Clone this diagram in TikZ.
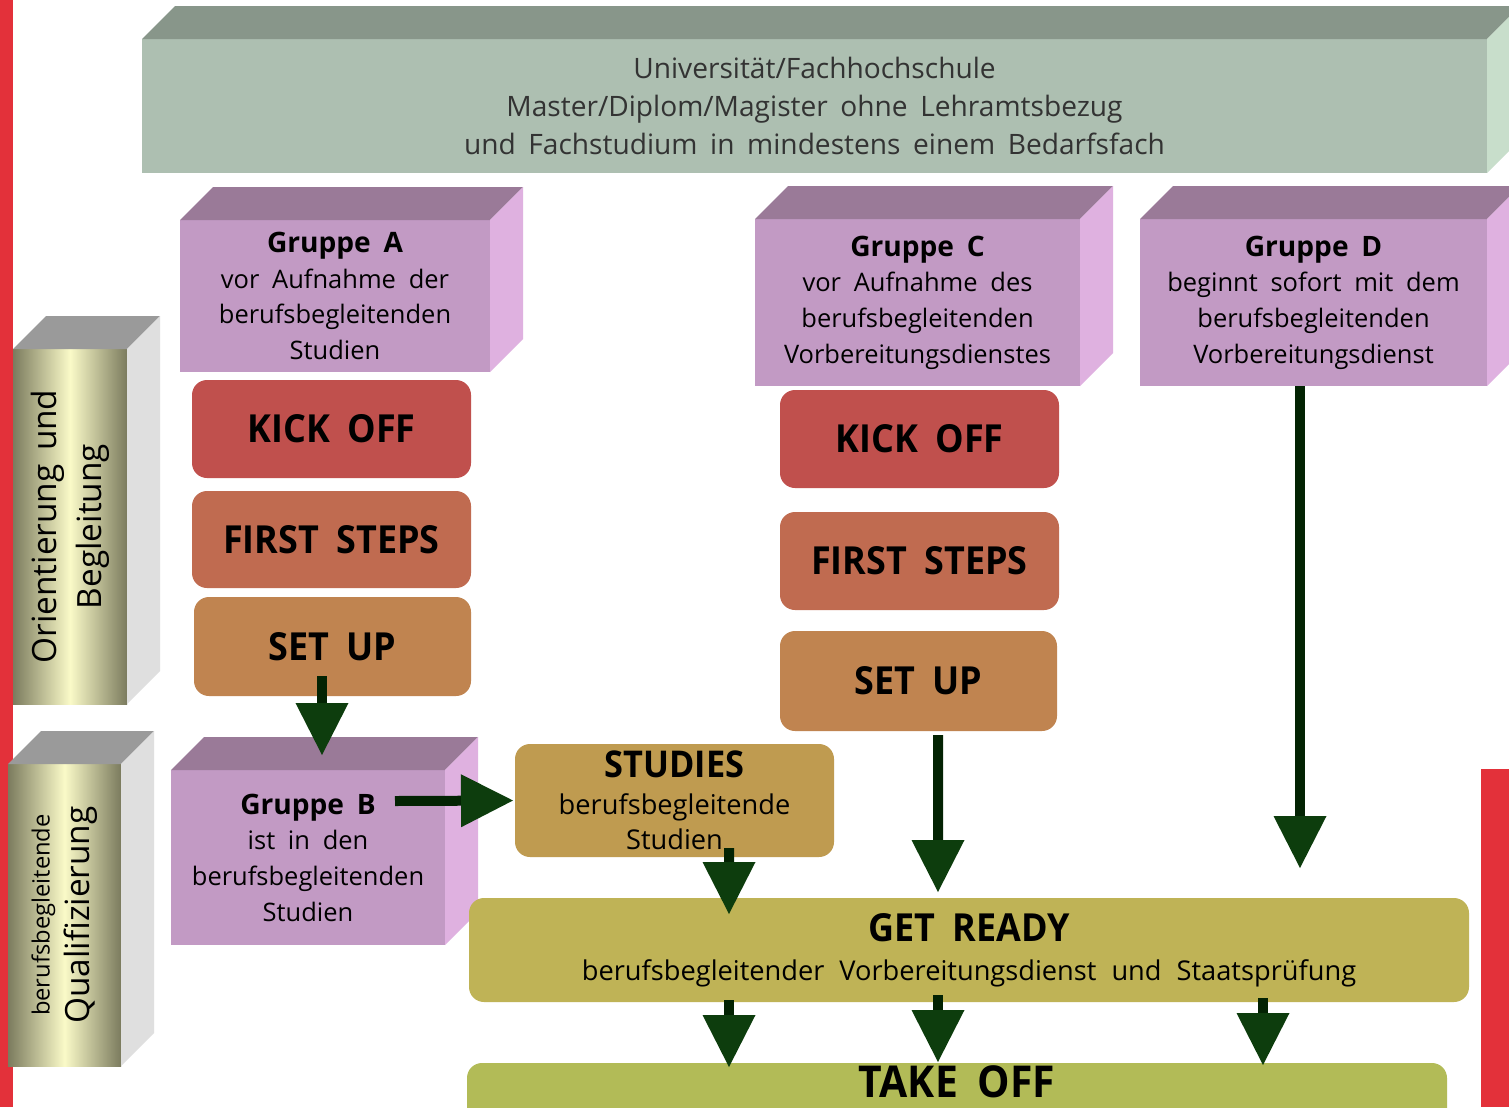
\documentclass[tikz,border=0pt]{standalone}
\usepackage{fontspec}
\setmainfont{Open Sans}
\newfontfamily\titlefam{Open Sans}[FakeStretch=0.93]
\usetikzlibrary{arrows.meta,calc}
\definecolor{redbar}{HTML}{E3313A}
\definecolor{grnT}{HTML}{88968A}
\definecolor{grnF}{HTML}{ADBFB1}
\definecolor{grnS}{HTML}{C8DECB}
\definecolor{purT}{HTML}{9A7A98}
\definecolor{purF}{HTML}{C29AC4}
\definecolor{purS}{HTML}{DFB1E0}
\definecolor{gryT}{HTML}{9A9A9A}
\definecolor{gryS}{HTML}{DFDFDF}
\definecolor{olv}{HTML}{7B7B5E}
\definecolor{crm}{HTML}{FAFAC8}
\definecolor{kick}{HTML}{C0504D}
\definecolor{first}{HTML}{C06B50}
\definecolor{setup}{HTML}{C08450}
\definecolor{stud}{HTML}{BF9B50}
\definecolor{ready}{HTML}{BFB356}
\definecolor{take}{HTML}{B2BB57}
\definecolor{shaftc}{HTML}{032303}
\definecolor{headc}{HTML}{0D3D0D}
\definecolor{txtgray}{HTML}{333333}
\newcommand\titlef[1]{\titlefam\bfseries\fontsize{#1}{#1}\selectfont\spaceskip=0.45em\relax}
\newcommand\grp[1]{{\bfseries\fontsize{16}{20.3}\selectfont #1}}
\newcommand\cubefaces[3]{%
 \fill[#2] (#1.north west) -- ++(33,-33) -- ($(#1.north east)+(33,-33)$) -- (#1.north east) -- cycle;
 \fill[#3] (#1.north east) -- ++(33,-33) -- ($(#1.south east)+(33,-33)$) -- (#1.south east) -- cycle;}
\begin{document}
\begin{tikzpicture}[x=0.02cm,y=-0.02cm,
  sz/.style 2 args={minimum width=#1*0.02cm, minimum height=#2*0.02cm, inner sep=0pt, outer sep=0pt},
  rbox/.style={rounded corners=0.3cm},
  body/.style={font={\fontsize{14.5}{20.3}\selectfont\spaceskip=0.5em\relax}, align=center, text=black},
  arr/.style={draw=shaftc, line width=0.2cm, -{Triangle[length=1.04cm,width=1.06cm,line width=0pt,color=headc]}},
]
\clip (0,0) rectangle (1509,1107);
\fill[white] (0,0) rectangle (1509,1107);
\fill[redbar] (0,0) rectangle (13,1107);
\fill[redbar] (1481,769) rectangle (1509,1107);

% top box
\node[sz={1345}{134}, fill=grnF, text=txtgray, align=center, font={\fontsize{16}{21.8}\selectfont\spaceskip=0.45em\relax}] (top) at (814.5,106)
  {Universität/Fachhochschule\\Master/Diplom/Magister ohne Lehramtsbezug\\und Fachstudium in mindestens einem Bedarfsfach};
\cubefaces{top}{grnT}{grnS}

% groups
\node[sz={310}{152}, fill=purF, body] (grpA) at (335,296)
  {\grp{Gruppe A}\\vor Aufnahme der\\berufsbegleitenden\\Studien};
\cubefaces{grpA}{purT}{purS}
\node[sz={274}{175}, fill=purF, body] (grpB) at (308,857.5)
  {\grp{Gruppe B}\\ist in den\\berufsbegleitenden\\Studien};
\cubefaces{grpB}{purT}{purS}
\node[sz={325}{167}, fill=purF, body] (grpC) at (917.5,302.5)
  {\grp{Gruppe C}\\vor Aufnahme des\\berufsbegleitenden\\Vorbereitungsdienstes};
\cubefaces{grpC}{purT}{purS}
\node[sz={347}{167}, fill=purF, body] (grpD) at (1313.5,302.5)
  {\grp{Gruppe D}\\beginnt sofort mit dem\\berufsbegleitenden\\Vorbereitungsdienst};
\cubefaces{grpD}{purT}{purS}

% side boxes
\node[sz={114}{355}, left color=olv, right color=olv, middle color=crm] (side1) at (70,526.5) {};
\cubefaces{side1}{gryT}{gryS}
\node[rotate=90, align=center, font={\fontsize{19}{25.5}\selectfont\spaceskip=0.4em\relax}] (side1t) at (side1.center) {Orientierung und\\Begleitung};
\node[sz={113}{302}, left color=olv, right color=olv, middle color=crm] (side2) at (64.5,915) {};
\cubefaces{side2}{gryT}{gryS}
\node[rotate=90, align=center, font=\fontsize{19}{22.7}\selectfont] (side2t) at (side2.center)
  {{\fontsize{13.5}{15}\selectfont berufsbegleitende}\\Qualifizierung};

% steps column A
\node[sz={279}{98}, rbox, fill=kick, font=\titlef{22}] (kickA) at (331.5,429) {KICK OFF};
\node[sz={279}{97}, rbox, fill=first, font=\titlef{22}] (firstA) at (331.5,539.5) {FIRST STEPS};
\node[sz={277}{99}, rbox, fill=setup, font=\titlef{22}] (setupA) at (332.5,646.5) {SET UP};

% steps column C
\node[sz={279}{98}, rbox, fill=kick, font=\titlef{22}] (kickC) at (919.5,439) {KICK OFF};
\node[sz={279}{98}, rbox, fill=first, font=\titlef{22}] (firstC) at (919.5,561) {FIRST STEPS};
\node[sz={277}{100}, rbox, fill=setup, font=\titlef{22}] (setupC) at (918.5,681) {SET UP};

% studies, get ready, take off
\node[sz={319}{113}, rbox, fill=stud, align=center, font={\fontsize{15.5}{20}\selectfont}] (studies) at (674.5,800.5)
  {{\titlef{21}STUDIES}\\[1pt]berufsbegleitende\\Studien};
\node[sz={1000}{104}, rbox, fill=ready, align=center, font={\fontsize{15.5}{21}\selectfont\spaceskip=0.55em\relax}] (ready) at (969,950)
  {{\titlef{22}GET READY}\\[1pt]berufsbegleitender Vorbereitungsdienst und Staatsprüfung};
\node[sz={980}{90}, rbox, fill=take, label={[font=\titlef{25}, yshift=0.52cm]center:TAKE OFF}] (takeoff) at (957,1108) {};

% arrows
\draw[arr] ($(setupA.south)+(-10.5,-20)$) -- ($(grpB.north)+(14,-15)$);
\draw[arr] ($(grpB.east)+(-50,-56.5)$) -- ($(studies.west)+(-2,0)$);
\draw[arr] ($(studies.south)+(54.5,-9)$) -- ($(ready.north)+(-240,16)$);
\draw[arr] ($(setupC.south)+(19.5,4)$) -- ($(ready.north)+(-31,-6)$);
\draw[arr] ($(grpD.south)+(-13.5,0)$) -- ($(ready.north)+(331,-30)$);
\draw[arr] ($(ready.south)+(-240,-2)$) -- ($(takeoff.north)+(-228,4)$);
\draw[arr] ($(ready.south)+(-31,-7)$) -- ($(takeoff.north)+(-19,-1)$);
\draw[arr] ($(ready.south)+(294,-4)$) -- ($(takeoff.north)+(306,2)$);
\end{tikzpicture}
\end{document}
